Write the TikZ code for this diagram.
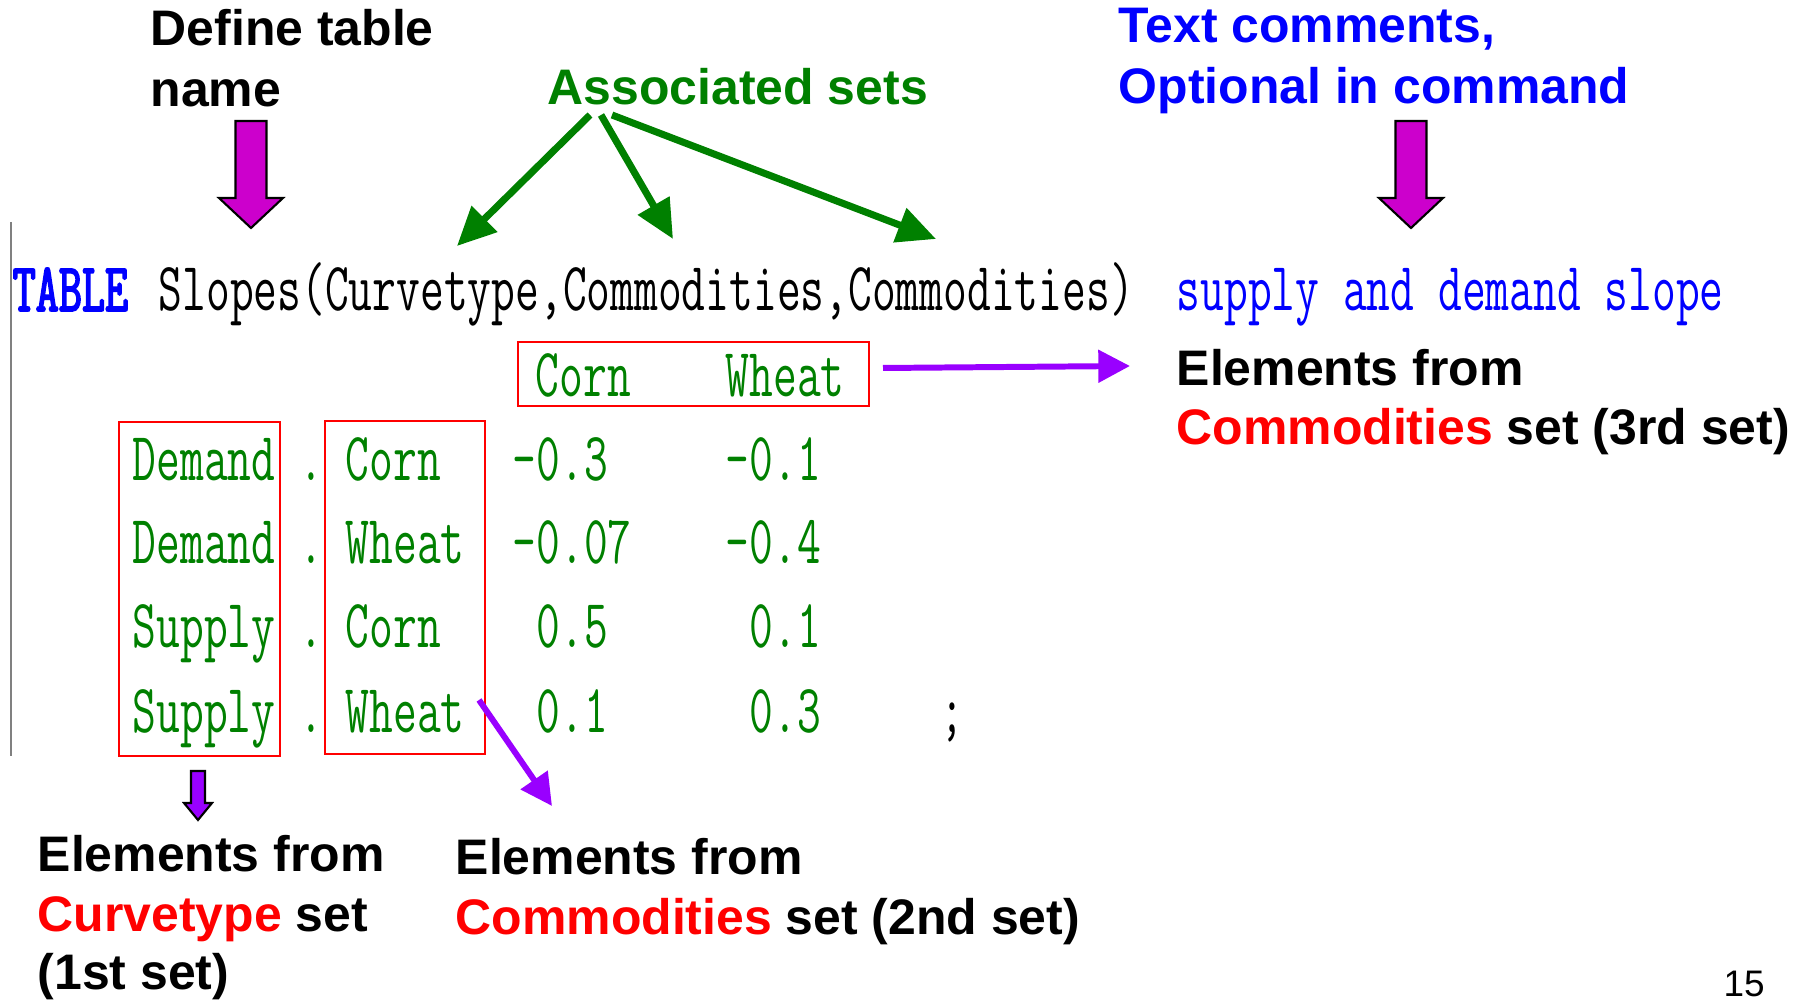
\documentclass[tikz,border=0pt]{standalone}
\usepackage{fontspec}
\setmainfont{Liberation Sans}
\newfontfamily\codefont[FakeStretch=0.67]{Latin Modern Mono}
\newfontfamily\codebold[FakeStretch=0.65,FakeBold=2.5]{Latin Modern Mono}
\usetikzlibrary{arrows.meta,positioning}
\definecolor{setgreen}{RGB}{0,128,0}
\definecolor{arrmagenta}{RGB}{204,0,204}
\definecolor{arrpurple}{RGB}{153,0,255}
\definecolor{cmtblue}{RGB}{0,0,255}
\tikzset{
  note/.style={inner sep=0pt, anchor=base west, font=\bfseries\fontsize{14.2}{17}\selectfont},
  code/.style={inner sep=0pt, anchor=base west, font=\codefont\fontsize{19.6}{24}\selectfont},
  redbox/.style={draw=red, line width=0.6pt, inner sep=0pt},
  setarrow/.style={setgreen, line width=2pt, -{Triangle[length=11pt,width=10pt]}},
  elemarrow/.style={arrpurple, line width=1.7pt, -{Triangle[length=9pt,width=9pt]}},
  blockarrow/.style={draw=black, line width=0.6pt, line join=miter}
}

\begin{document}
\begin{tikzpicture}[x=0.01cm,y=-0.01cm]
\useasboundingbox (0,0) rectangle (1805,1001);

%Notes on top
\node[note] (deftab1) at (150,46) {Define table};
\node[note] (deftab2) at (150,107) {name};
\node[note, text=setgreen] (assoc) at (547,105) {Associated sets};
\node[note, text=cmtblue] (cmt1) at (1118,43) {Text comments,};
\node[note, text=cmtblue] (cmt2) at (1118,104) {Optional in command};

%Down arrows
\foreach \cx in {251,1411}
\draw[blockarrow, fill=arrmagenta] ({\cx-15.5},121) -- ({\cx+15.5},121) -- ({\cx+15.5},198)
  -- ({\cx+32},198) -- (\cx,228) -- ({\cx-32},198) -- ({\cx-15.5},198) -- cycle;

%Code line
\draw[gray, line width=0.6pt] (11,222) -- (11,756);
\node[code, font=\codebold\fontsize{19.6}{24}\selectfont, text=cmtblue] (kw) at (12,311) {TABLE};
\node[code] (decl) at (158,311) {Slopes(Curvetype,Commodities,Commodities)};
\node[code, text=cmtblue] (cmt) at (1176,311) {supply and demand slope};

%Associated sets
\coordinate (foot1) at (590,115);
\coordinate (foot2) at (601,115);
\coordinate (foot3) at (612,115);
\coordinate (set1) at (457,246);
\coordinate (set2) at (673,239);
\coordinate (set3) at (936,239);
\draw[setarrow] (foot1) -- (set1);
\draw[setarrow] (foot2) -- (set2);
\draw[setarrow] (foot3) -- (set3);

%Table
\node[code, text=setgreen] (hcorn) at (535,397) {Corn};
\node[code, text=setgreen] (hwheat) at (725,397) {Wheat};
\foreach \y/\a/\b in {481/Demand/Corn,564/Demand/Wheat,648/Supply/Corn,733/Supply/Wheat}{
  \node[code, text=setgreen] (ct\y) at (132,\y) {\a};
  \node[code, text=setgreen] (dot\y) at (299,\y) {.};
  \node[code, text=setgreen] (cm\y) at (345,\y) {\b};
}
\foreach \y/\x/\v/\xx/\w in {481/512/-0.3/725/-0.1,564/512/-0.07/725/-0.4,648/536/0.5/749/0.1,733/536/0.1/749/0.3}{
  \node[code, text=setgreen] (va\y) at (\x,\y) {\v};
  \node[code, text=setgreen] (vb\y) at (\xx,\y) {\w};
}
\node[code] (semi) at (940,733) {;};

%Boxes
\node[redbox, minimum width=3.51cm, minimum height=0.64cm] (hdrbox) at (693.5,374) {};
\node[redbox, minimum width=1.61cm, minimum height=3.34cm] (curvebox) at (199.5,589) {};
\node[redbox, minimum width=1.60cm, minimum height=3.33cm] (commbox) at (405,587.5) {};

%Element arrows
\coordinate (hdrfoot) at (883,368);
\coordinate (hdrtip) at (1130,366);
\draw[elemarrow] (hdrfoot) -- (hdrtip);
\coordinate (commfoot) at (479,700);
\coordinate (commtip) at (552,806);
\draw[elemarrow] (commfoot) -- (commtip);
\draw[blockarrow, fill=arrpurple] (191,771) -- (205,771) -- (205,803) -- (212,803) -- (198,820)
  -- (184,803) -- (191,803) -- cycle;

%Element notes
\node[note] (elem3a) at (1176,386) {Elements from};
\node[note] (elem3b) at (1176,445) {\textcolor{red}{Commodities} set (3rd set)};
\node[note] (elem1a) at (37,872) {Elements from};
\node[note] (elem1b) at (37,932) {\textcolor{red}{Curvetype} set};
\node[note] (elem1c) at (37,990) {(1st set)};
\node[note] (elem2a) at (455,875) {Elements from};
\node[note] (elem2b) at (455,935) {\textcolor{red}{Commodities} set (2nd set)};

\node[inner sep=0pt, anchor=base west, font=\fontsize{10.5}{12}\selectfont] (pagenum) at (1723,997) {15};
\end{tikzpicture}
\end{document}
